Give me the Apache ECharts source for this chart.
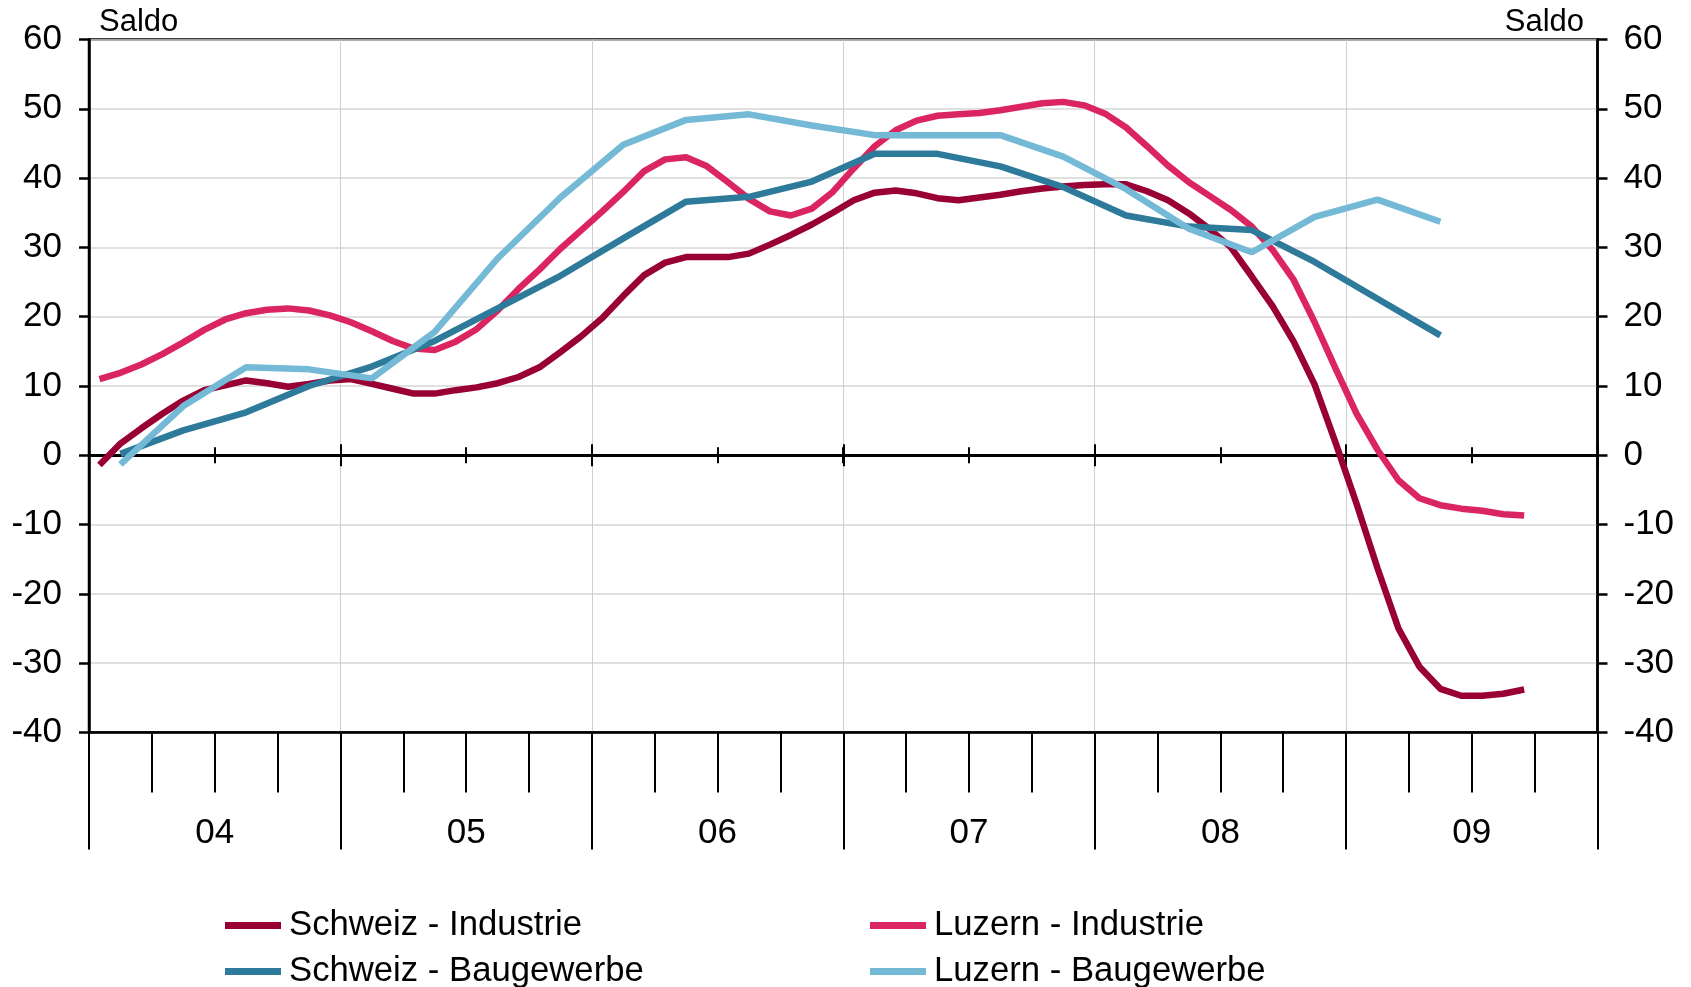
<!DOCTYPE html>
<html>
<head>
<meta charset="utf-8">
<script src="https://cdn.jsdelivr.net/npm/echarts@6/dist/echarts.min.js"></script>
<style>
	html, body { margin: 0; padding: 0; background: #fff; }
	#chart { width: 1691px; height: 987px; }
</style>
</head>
<body>
<div id="chart"></div>
<script>
// year labels on the x axis (2004 - 2009)
var years = ['04', '05', '06', '07', '08', '09'];
var halfYears = ['04a', '04b', '05a', '05b', '06a', '06b', '07a', '07b', '08a', '08b', '09a', '09b'];

// monthly surveys, Jan 2004 - Sep 2009
var schweizIndustrie = [
	-1.4, 1.7, 3.9, 6.0, 7.9, 9.4, 10.1, 10.8, 10.4, 9.9, 10.3, 10.8,
	11.0, 10.3, 9.6, 8.9, 8.9, 9.4, 9.8, 10.4, 11.3, 12.7, 14.9, 17.2,
	19.8, 23.0, 26.0, 27.8, 28.6, 28.6, 28.6, 29.1, 30.4, 31.8, 33.3, 35.0,
	36.8, 37.9, 38.2, 37.8, 37.1, 36.8, 37.2, 37.6, 38.1, 38.5, 38.8, 39.0,
	39.1, 39.1, 38.1, 36.8, 34.9, 32.6, 30.0, 25.8, 21.5, 16.4, 10.2, 1.8,
	-7.0, -16.3, -25.0, -30.5, -33.7, -34.7, -34.7, -34.4, -33.8
];
var luzernIndustrie = [
	11.0, 11.9, 13.1, 14.6, 16.3, 18.1, 19.6, 20.5, 21.0, 21.2, 20.9, 20.2,
	19.2, 17.9, 16.5, 15.4, 15.2, 16.4, 18.2, 20.9, 24.0, 26.8, 29.8, 32.5,
	35.2, 38.0, 41.0, 42.7, 43.0, 41.7, 39.4, 37.0, 35.2, 34.6, 35.6, 38.0,
	41.4, 44.6, 46.9, 48.3, 49.0, 49.2, 49.4, 49.8, 50.3, 50.8, 51.0, 50.5,
	49.3, 47.3, 44.6, 41.8, 39.4, 37.4, 35.4, 33.0, 29.6, 25.3, 19.2, 12.5,
	6.0, 0.8, -3.6, -6.2, -7.2, -7.7, -8.0, -8.5, -8.7
];

// quarterly surveys, Q1 2004 - Q2 2009 (plotted on the middle month)
var schweizBau = [
	0.2, 3.6, 6.2, 10.0, 12.8, 16.5, 21.2, 25.9,
	31.3, 36.6, 37.3, 39.5, 43.5, 43.5, 41.7, 38.7,
	34.6, 33.0, 32.5, 27.9, 22.6, 17.3
];
var luzernBau = [
	-1.3, 7.1, 12.7, 12.4, 11.1, 17.8, 28.4, 37.2,
	44.8, 48.4, 49.2, 47.6, 46.2, 46.2, 46.2, 43.1,
	38.4, 32.7, 29.3, 34.4, 36.9, 33.7
];

var months = [];
years.forEach(function (y) {
	for (var m = 1; m <= 12; m++) {
		months.push(y + '-' + (m < 10 ? '0' + m : m));
	}
});

function quarterToMonths(q) {
	var out = months.map(function () { return null; });
	q.forEach(function (v, k) { out[k * 3 + 1] = v; });
	return out;
}

var FONT = "'Liberation Sans', Arial, sans-serif";
var black = '#000';
var gridGrey = '#d6d6d6';

var chartDom = document.getElementById('chart');
var myChart = echarts.init(chartDom);
var option;

function zeroAxis(data, len, inside) {
	return {
		type: 'category',
		data: data,
		boundaryGap: true,
		position: 'bottom',
		axisLine: { show: true, onZero: true, onZeroAxisIndex: 0, lineStyle: { color: black, width: 2.5 } },
		axisTick: { show: true, interval: 0, inside: inside, length: len, lineStyle: { color: black, width: 2 } },
		axisLabel: { show: false },
		splitLine: { show: false }
	};
}

function yAxisDef(pos, margin, showSplit) {
	return {
		type: 'value',
		position: pos,
		min: -40,
		max: 60,
		interval: 10,
		axisLine: { show: true, lineStyle: { color: black, width: 2.5 } },
		axisTick: { show: true, length: 10, lineStyle: { color: black, width: 2.5 } },
		axisLabel: { margin: margin, fontSize: 35, color: black, fontFamily: FONT },
		splitLine: { show: showSplit, lineStyle: { color: gridGrey, width: 1.5 } }
	};
}

var legendBase = {
	orient: 'vertical',
	top: 903,
	height: 120,
	itemWidth: 56,
	itemHeight: 7,
	itemGap: 11,
	icon: 'rect',
	textStyle: { fontSize: 34.7, color: black, fontFamily: FONT, padding: [0, 0, 0, 3] }
};

option = {
	animation: false,
	backgroundColor: '#fff',
	grid: {
		left: 89,
		right: 93.5,
		top: 39.5,
		bottom: 254.5,
		show: true,
		borderColor: black,
		borderWidth: 2.5,
		backgroundColor: 'transparent'
	},
	legend: [
		Object.assign({}, legendBase, { left: 220, data: ['Schweiz - Industrie', 'Schweiz - Baugewerbe'] }),
		Object.assign({}, legendBase, { left: 865, data: ['Luzern - Industrie', 'Luzern - Baugewerbe'] })
	],
	graphic: [
		{ type: 'text', left: 99, top: 7, style: { text: 'Saldo', font: '31px ' + FONT, fill: black } },
		{ type: 'text', right: 107, top: 7, style: { text: 'Saldo', font: '31px ' + FONT, fill: black } }
	],
	xAxis: [
		{
			// months: data axis, quarter ticks under the plot
			type: 'category',
			data: months,
			boundaryGap: true,
			position: 'bottom',
			axisLine: { show: true, onZero: false, lineStyle: { color: black, width: 2.5 } },
			axisTick: {
				show: true,
				length: 60,
				interval: function (i) { return i % 3 === 0; },
				lineStyle: { color: black, width: 2 }
			},
			axisLabel: { show: false },
			splitLine: { show: false }
		},
		{
			// years: labels, long ticks, vertical grid
			type: 'category',
			data: years,
			boundaryGap: true,
			position: 'bottom',
			axisLine: { show: false, onZero: false },
			axisTick: { show: true, interval: 0, length: 117, lineStyle: { color: black, width: 2 } },
			axisLabel: { show: true, interval: 0, margin: 83, fontSize: 35, color: black, fontFamily: FONT },
			splitLine: { show: true, interval: 0, lineStyle: { color: '#cfcfcf', width: 1 } }
		},
		zeroAxis(years, 11, false),
		zeroAxis(years, 11, true),
		zeroAxis(halfYears, 8, false),
		zeroAxis(halfYears, 8, true)
	],
	yAxis: [
		yAxisDef('left', 27, true),
		yAxisDef('right', 26, false)
	],
	series: [
		{
			name: 'Schweiz - Industrie',
			type: 'line',
			data: schweizIndustrie,
			symbol: 'none',
			color: '#990035',
			lineStyle: { width: 6.5, color: '#990035' }
		},
		{
			name: 'Luzern - Industrie',
			type: 'line',
			data: luzernIndustrie,
			symbol: 'none',
			color: '#da2560',
			lineStyle: { width: 6.5, color: '#da2560' }
		},
		{
			name: 'Schweiz - Baugewerbe',
			type: 'line',
			data: quarterToMonths(schweizBau),
			connectNulls: true,
			symbol: 'none',
			color: '#2e7a9a',
			lineStyle: { width: 6.5, color: '#2e7a9a' }
		},
		{
			name: 'Luzern - Baugewerbe',
			type: 'line',
			data: quarterToMonths(luzernBau),
			connectNulls: true,
			symbol: 'none',
			color: '#74b9d6',
			lineStyle: { width: 6.5, color: '#74b9d6' }
		}
	]
};

option && myChart.setOption(option);
</script>
</body>
</html>
